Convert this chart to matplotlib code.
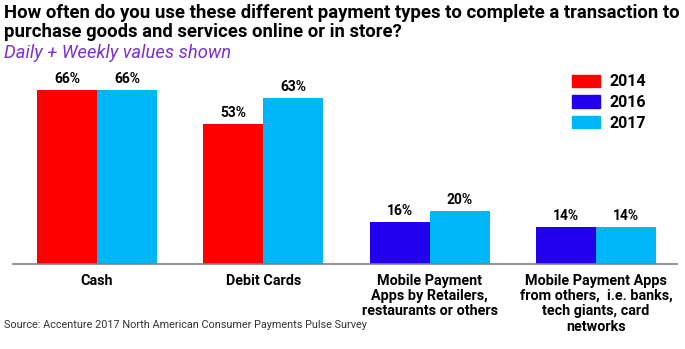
import matplotlib.pyplot as plt
from matplotlib.patches import Patch

categories = ['Cash', 'Debit Cards',
              'Mobile Payment\nApps by Retailers,\nrestaurants or others',
              'Mobile Payment Apps\nfrom others,  i.e. banks,\ntech giants, card\nnetworks']
years = ['2014', '2016', '2017']
v2014 = [66, 53, None, None]
v2016 = [None, None, 16, 14]
v2017 = [66, 63, 20, 14]
colours = ['#ff0000', '#2200ee', '#00b6fb']

plt.rcParams['font.family'] = ['Roboto', 'DejaVu Sans']

fig = plt.figure(figsize=(6.85, 3.49), dpi=100)
ax = fig.add_axes([13/685, 1-264/349, 664/685, 197.5/349])

w = 0.36
series = [v2014, v2016, v2017]
for i, cat in enumerate(categories):
	present = [(s, vals[i]) for s, vals in enumerate(series) if vals[i] is not None]
	n = len(present)
	for k, (s, v) in enumerate(present):
		x = i + (k - (n-1)/2) * w
		ax.bar(x, v, width=w, color=colours[s], linewidth=0)
		ax.text(x, v + 1.5, f"{v}%", ha='center', va='bottom', fontsize=10, fontweight='bold')

ax.set_xlim(-0.505, 3.487)
ax.set_ylim(0, 75)
for sp in ['top', 'right', 'left']:
	ax.spines[sp].set_visible(False)
ax.spines['bottom'].set_color('#808080')
ax.spines['bottom'].set_linewidth(1.2)
ax.set_yticks([])
ax.set_xticks(range(len(categories)))
ax.set_xticklabels(categories, fontsize=10.4, fontweight='bold', linespacing=1.12)
ax.tick_params(axis='x', length=0, pad=7)

handles = [Patch(color=c, label=y) for c, y in zip(colours, years)]
fig.legend(handles=handles, loc='upper left', bbox_to_anchor=(558/685, 1-60/349),
	frameon=False, prop={'weight': 'bold', 'size': 11.5}, handlelength=1.7,
	handleheight=0.8, handletextpad=0.6, labelspacing=0.35)

fig.text(4/685, 1-4/349, "How often do you use these different payment types to complete a transaction to\npurchase goods and services online or in store?",
	ha='left', va='top', fontsize=13.3, fontweight='bold', linespacing=1.05)
fig.text(4/685, 1-44/349, "Daily + Weekly values shown", ha='left', va='top',
	fontsize=13.2, style='italic', color='#7b2fd6')
fig.text(4/685, 1-325/349, "Source: Accenture 2017 North American Consumer Payments Pulse Survey",
	ha='left', va='center', fontsize=7.8, color='#333333')

fig.savefig('out.png', dpi=100)
